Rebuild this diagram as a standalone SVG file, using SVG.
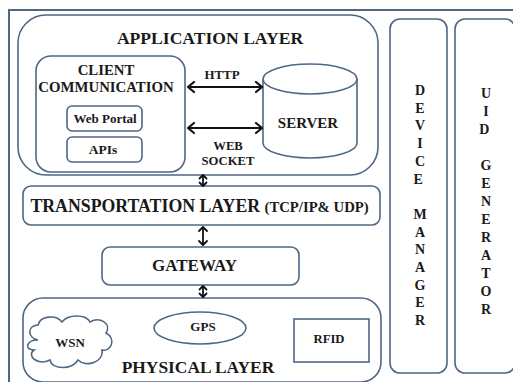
<svg xmlns="http://www.w3.org/2000/svg" width="513" height="382" viewBox="0 0 513 382">
<style>
.b{fill:#fff;stroke:#4f6785;stroke-width:1.6}
.c{stroke:#111;stroke-width:2.2;fill:none}
.v{stroke:#111;stroke-width:1.8;fill:none}
.h{stroke:#111;stroke-width:2.2;fill:none;stroke-linecap:round;stroke-linejoin:round}
.hv{stroke:#111;stroke-width:1.8;fill:none;stroke-linecap:round;stroke-linejoin:round}
</style>
<rect width="513" height="382" fill="#fff"/>
<g font-family="Liberation Serif, Times New Roman, serif" font-weight="bold" fill="#1a1a1a" text-anchor="middle">
<g id="frame"><rect x="9" y="10" width="510" height="380" style="fill:none;stroke:#4f6785;stroke-width:2"/></g>

<g id="application-layer">
<rect class="b" x="18" y="15" width="360" height="160" rx="28"/>
<text x="210" y="44" font-size="17.6">APPLICATION LAYER</text>
</g>
<g id="client-communication">
<rect class="b" x="36" y="56" width="149" height="116" rx="15"/>
<text x="106" y="75" font-size="14.8">CLIENT</text>
<text x="106" y="92" font-size="14.8">COMMUNICATION</text>
</g>
<g id="web-portal">
<rect class="b" x="67" y="106" width="75" height="25" rx="5"/>
<text x="105" y="123" font-size="13">Web Portal</text>
</g>
<g id="apis">
<rect class="b" x="67" y="137" width="75" height="25" rx="5"/>
<text x="103" y="154" font-size="13.5">APIs</text>
</g>
<g id="server">
<path class="b" d="M263 79 L263 143 A47 15 0 0 0 357 143 L357 79"/>
<ellipse class="b" cx="310" cy="79" rx="47" ry="15"/>
<text x="308" y="128" font-size="15">SERVER</text>
</g>
<g id="device-manager">
<rect class="b" x="390" y="19" width="57" height="354" rx="10"/>
<text font-size="14">
<tspan x="420" y="95">D</tspan><tspan x="420" y="112.7">E</tspan><tspan x="420" y="130.4">V</tspan><tspan x="420" y="148.1">I</tspan><tspan x="420" y="165.8">C</tspan><tspan x="420" y="183.5">E</tspan>
<tspan x="420" y="218.9">M</tspan><tspan x="420" y="236.6">A</tspan><tspan x="420" y="254.3">N</tspan><tspan x="420" y="272">A</tspan><tspan x="420" y="289.7">G</tspan><tspan x="420" y="307.4">E</tspan><tspan x="420" y="325.1">R</tspan>
</text>
</g>
<g id="uid-generator">
<rect class="b" x="455" y="19" width="60" height="354" rx="10"/>
<text font-size="14">
<tspan x="486" y="98">U</tspan><tspan x="486" y="116">I</tspan><tspan x="486" y="134">D</tspan>
<tspan x="486" y="170">G</tspan><tspan x="486" y="188">E</tspan><tspan x="486" y="206">N</tspan><tspan x="486" y="224">E</tspan><tspan x="486" y="242">R</tspan><tspan x="486" y="260">A</tspan><tspan x="486" y="278">T</tspan><tspan x="486" y="296">O</tspan><tspan x="486" y="314">R</tspan>
</text>
</g>
<g id="transportation-layer">
<rect class="b" x="23" y="186" width="357" height="39" rx="8"/>
<text x="199.5" y="212" font-size="17.8">TRANSPORTATION LAYER <tspan font-size="14.7">(TCP/IP&amp; UDP)</tspan></text>
</g>
<g id="gateway">
<rect class="b" x="102" y="247" width="197" height="38" rx="8"/>
<text x="194.5" y="271" font-size="17">GATEWAY</text>
</g>
<g id="physical-layer">
<rect class="b" x="23" y="298" width="358" height="84" rx="20"/>
<text x="198" y="373" font-size="17.4">PHYSICAL LAYER</text>
</g>
<g id="gps">
<ellipse class="b" cx="200" cy="328" rx="46" ry="16"/>
<text x="203" y="331" font-size="13">GPS</text>
</g>
<g id="wsn">
<path class="b" d="M38 340 C28 338 26 326 38 325 C40 316 56 314 62 322 C68 314 86 314 90 322 C100 316 112 324 106 333 C116 338 112 352 102 350 C104 362 86 368 78 360 C72 370 52 370 50 360 C38 366 26 356 34 350 C24 350 26 340 38 340 Z"/>
<text x="70" y="347" font-size="13">WSN</text>
</g>
<g id="rfid">
<rect class="b" x="294" y="319" width="75" height="43"/>
<text x="329" y="343" font-size="12.7">RFID</text>
</g>
<g id="labels">
<text x="222" y="79" font-size="12.9">HTTP</text>
<text x="228" y="150" font-size="12.7">WEB</text>
<text x="228" y="165" font-size="12.7">SOCKET</text>
</g>
</g>
<g id="connectors">
<line class="c" x1="188" y1="87" x2="262" y2="87"/>
<path class="h" d="M194 82 L188 87 L194 92 M256 82 L262 87 L256 92"/>
<line class="c" x1="188" y1="128" x2="262" y2="128"/>
<path class="h" d="M194 123 L188 128 L194 133 M256 123 L262 128 L256 133"/>
<line class="v" x1="203" y1="175" x2="203" y2="186"/>
<path class="hv" d="M199.5 178.5 L203 175 L206.5 178.5 M199.5 182.5 L203 186 L206.5 182.5"/>
<line class="v" x1="203" y1="227" x2="203" y2="245"/>
<path class="hv" d="M199 231 L203 227 L207 231 M199 241 L203 245 L207 241"/>
<line class="v" x1="203" y1="286" x2="203" y2="297"/>
<path class="hv" d="M199.5 289.5 L203 286 L206.5 289.5 M199.5 293.5 L203 297 L206.5 293.5"/>
</g>
</svg>
